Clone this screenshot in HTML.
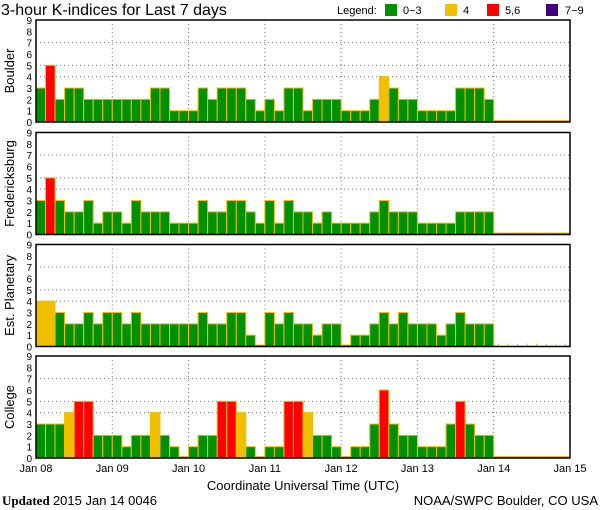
<!DOCTYPE html>
<html><head><meta charset="utf-8"><style>
body{margin:0;background:#fff;width:600px;height:510px;overflow:hidden;font-family:"Liberation Sans",sans-serif}
svg{display:block}
</style></head><body>
<svg id="chart" width="600" height="510" xmlns="http://www.w3.org/2000/svg">
<text x="1" y="15" font-size="16" font-family="Liberation Sans, sans-serif">3-hour K-indices for Last 7 days</text>
<g font-size="11" font-family="Liberation Sans, sans-serif">
<text x="337" y="14">Legend:</text>
<rect x="385" y="4" width="12" height="12" fill="#009000"/>
<text x="403" y="14">0−3</text>
<rect x="445" y="4" width="12" height="12" fill="#f0c000"/>
<text x="463" y="14">4</text>
<rect x="487" y="4" width="12" height="12" fill="#ff0000"/>
<text x="505" y="14">5,6</text>
<rect x="546" y="4" width="12" height="12" fill="#400080"/>
<text x="565" y="14">7−9</text>
</g>
<text x="303" y="490" text-anchor="middle" font-size="13">Coordinate Universal Time (UTC)</text>
<text x="2" y="505" font-size="13" font-family="Liberation Serif, serif"><tspan font-weight="bold">Updated</tspan> <tspan font-family="Liberation Sans, sans-serif">2015 Jan 14 0046</tspan></text>
<text x="598" y="505" text-anchor="end" font-size="13">NOAA/SWPC Boulder, CO USA</text>
</svg>
<script>
const stations = ["Boulder","Fredericksburg","Est. Planetary","College"];
const dayLabels = ["Jan 08","Jan 09","Jan 10","Jan 11","Jan 12","Jan 13","Jan 14","Jan 15"];
const yTicks = [0,1,2,3,4,5,6,7,8,9];
const boulder = [3,5,2,3,3,2,2,2, 2,2,2,2,3,3,1,1, 1,3,2,3,3,3,2,1, 2,1,3,3,1,2,2,2, 1,1,1,2,4,3,2,2, 1,1,1,1,3,3,3,2, 0,0,0,0,0,0,0,0];
const fredericksburg = [3,5,3,2,2,3,1,2, 2,1,3,2,2,2,1,1, 1,3,2,2,3,3,2,1, 3,1,3,2,2,1,2,1, 1,1,1,2,3,2,2,2, 1,1,1,1,2,2,2,2, 0,0,0,0,0,0,0,0];
const planetary = [4,4,3,2,2,3,2,3, 3,2,3,2,2,2,2,2, 2,3,2,2,3,3,1,0, 3,2,3,2,2,1,2,2, 0,1,1,2,3,2,3,2, 2,2,1,2,3,2,2,2, null,null,null,null,null,null,null,null];
const college = [3,3,3,4,5,5,2,2, 2,1,2,2,4,2,1,0, 1,2,2,5,5,4,1,0, 1,1,5,5,4,2,2,1, 0,1,1,3,6,3,2,2, 1,1,1,3,5,3,2,2, 0,0,0,0,0,0,0,0];
const series = [boulder,fredericksburg,planetary,college];

const svg = document.getElementById('chart');
const NS = 'http://www.w3.org/2000/svg';
const X0 = 36, X1 = 570;
const panelTops = [20,132.5,244.5,356];
const PH = 102;
const nBars = 56;
const bw = (X1-X0)/nBars;
function xs(i){ return X0 + i*bw; }
function mk(tag, attrs, parent){ const e=document.createElementNS(NS,tag); for(const k in attrs) e.setAttribute(k,attrs[k]); (parent||svg).appendChild(e); return e; }
function color(v){ return v<=3?'#009000':v==4?'#f0c000':v<=6?'#ff0000':'#400080'; }

stations.forEach((name,p)=>{
  const top = panelTops[p], bot = top+PH;
  const ys = v => bot - v*(PH/9);
  const g = mk('g',{});
  
  
  [4,5,7].forEach(t=>{
    const l = mk('line',{x1:X0,x2:X1,y1:ys(t),y2:ys(t),stroke:'#777','stroke-dasharray':'1,3'},g);
    
    
  });
  for(let d=1; d<7; d++){
    const x = X0 + d*8*bw;
    const l = mk('line',{x1:x,x2:x,y1:top,y2:bot,stroke:'#777','stroke-dasharray':'1,3'},g);
    
    
  }
  series[p].forEach((v,i)=>{
    if(v===null){
      const tk = mk('rect',{x:xs(i)+bw/2-0.5,y:bot-3,width:1,height:3,fill:'#f0c000'},g);
      
      
      return;
    }
    const h = Math.max(v*(PH/9), 1.5);
    const r = mk('rect',{x:xs(i),y:bot-h,width:bw,height:h,fill:color(v),stroke:'#f0c000','stroke-width':1},g);
    
    
  });
  const f = mk('rect',{x:X0,y:top,width:X1-X0,height:PH,fill:'none',stroke:'#000','stroke-width':1.5},g);
  
  
  yTicks.forEach(t=>{
    const tx = mk('text',{x:32,y:ys(t)+4,'text-anchor':'end','font-size':10},g);
    tx.textContent = t;
    
    
  });
  const cy = top+PH/2;
  const lab = mk('text',{x:14,y:cy,'text-anchor':'middle','font-size':13,transform:'rotate(-90 14 '+cy+')'},g);
  lab.textContent = name;
  
  
});
dayLabels.forEach((d,i)=>{
  const t = mk('text',{x:X0+i*8*bw,y:472,'text-anchor':'middle','font-size':11});
  t.textContent = d;
  
  
});
</script>
</body></html>
